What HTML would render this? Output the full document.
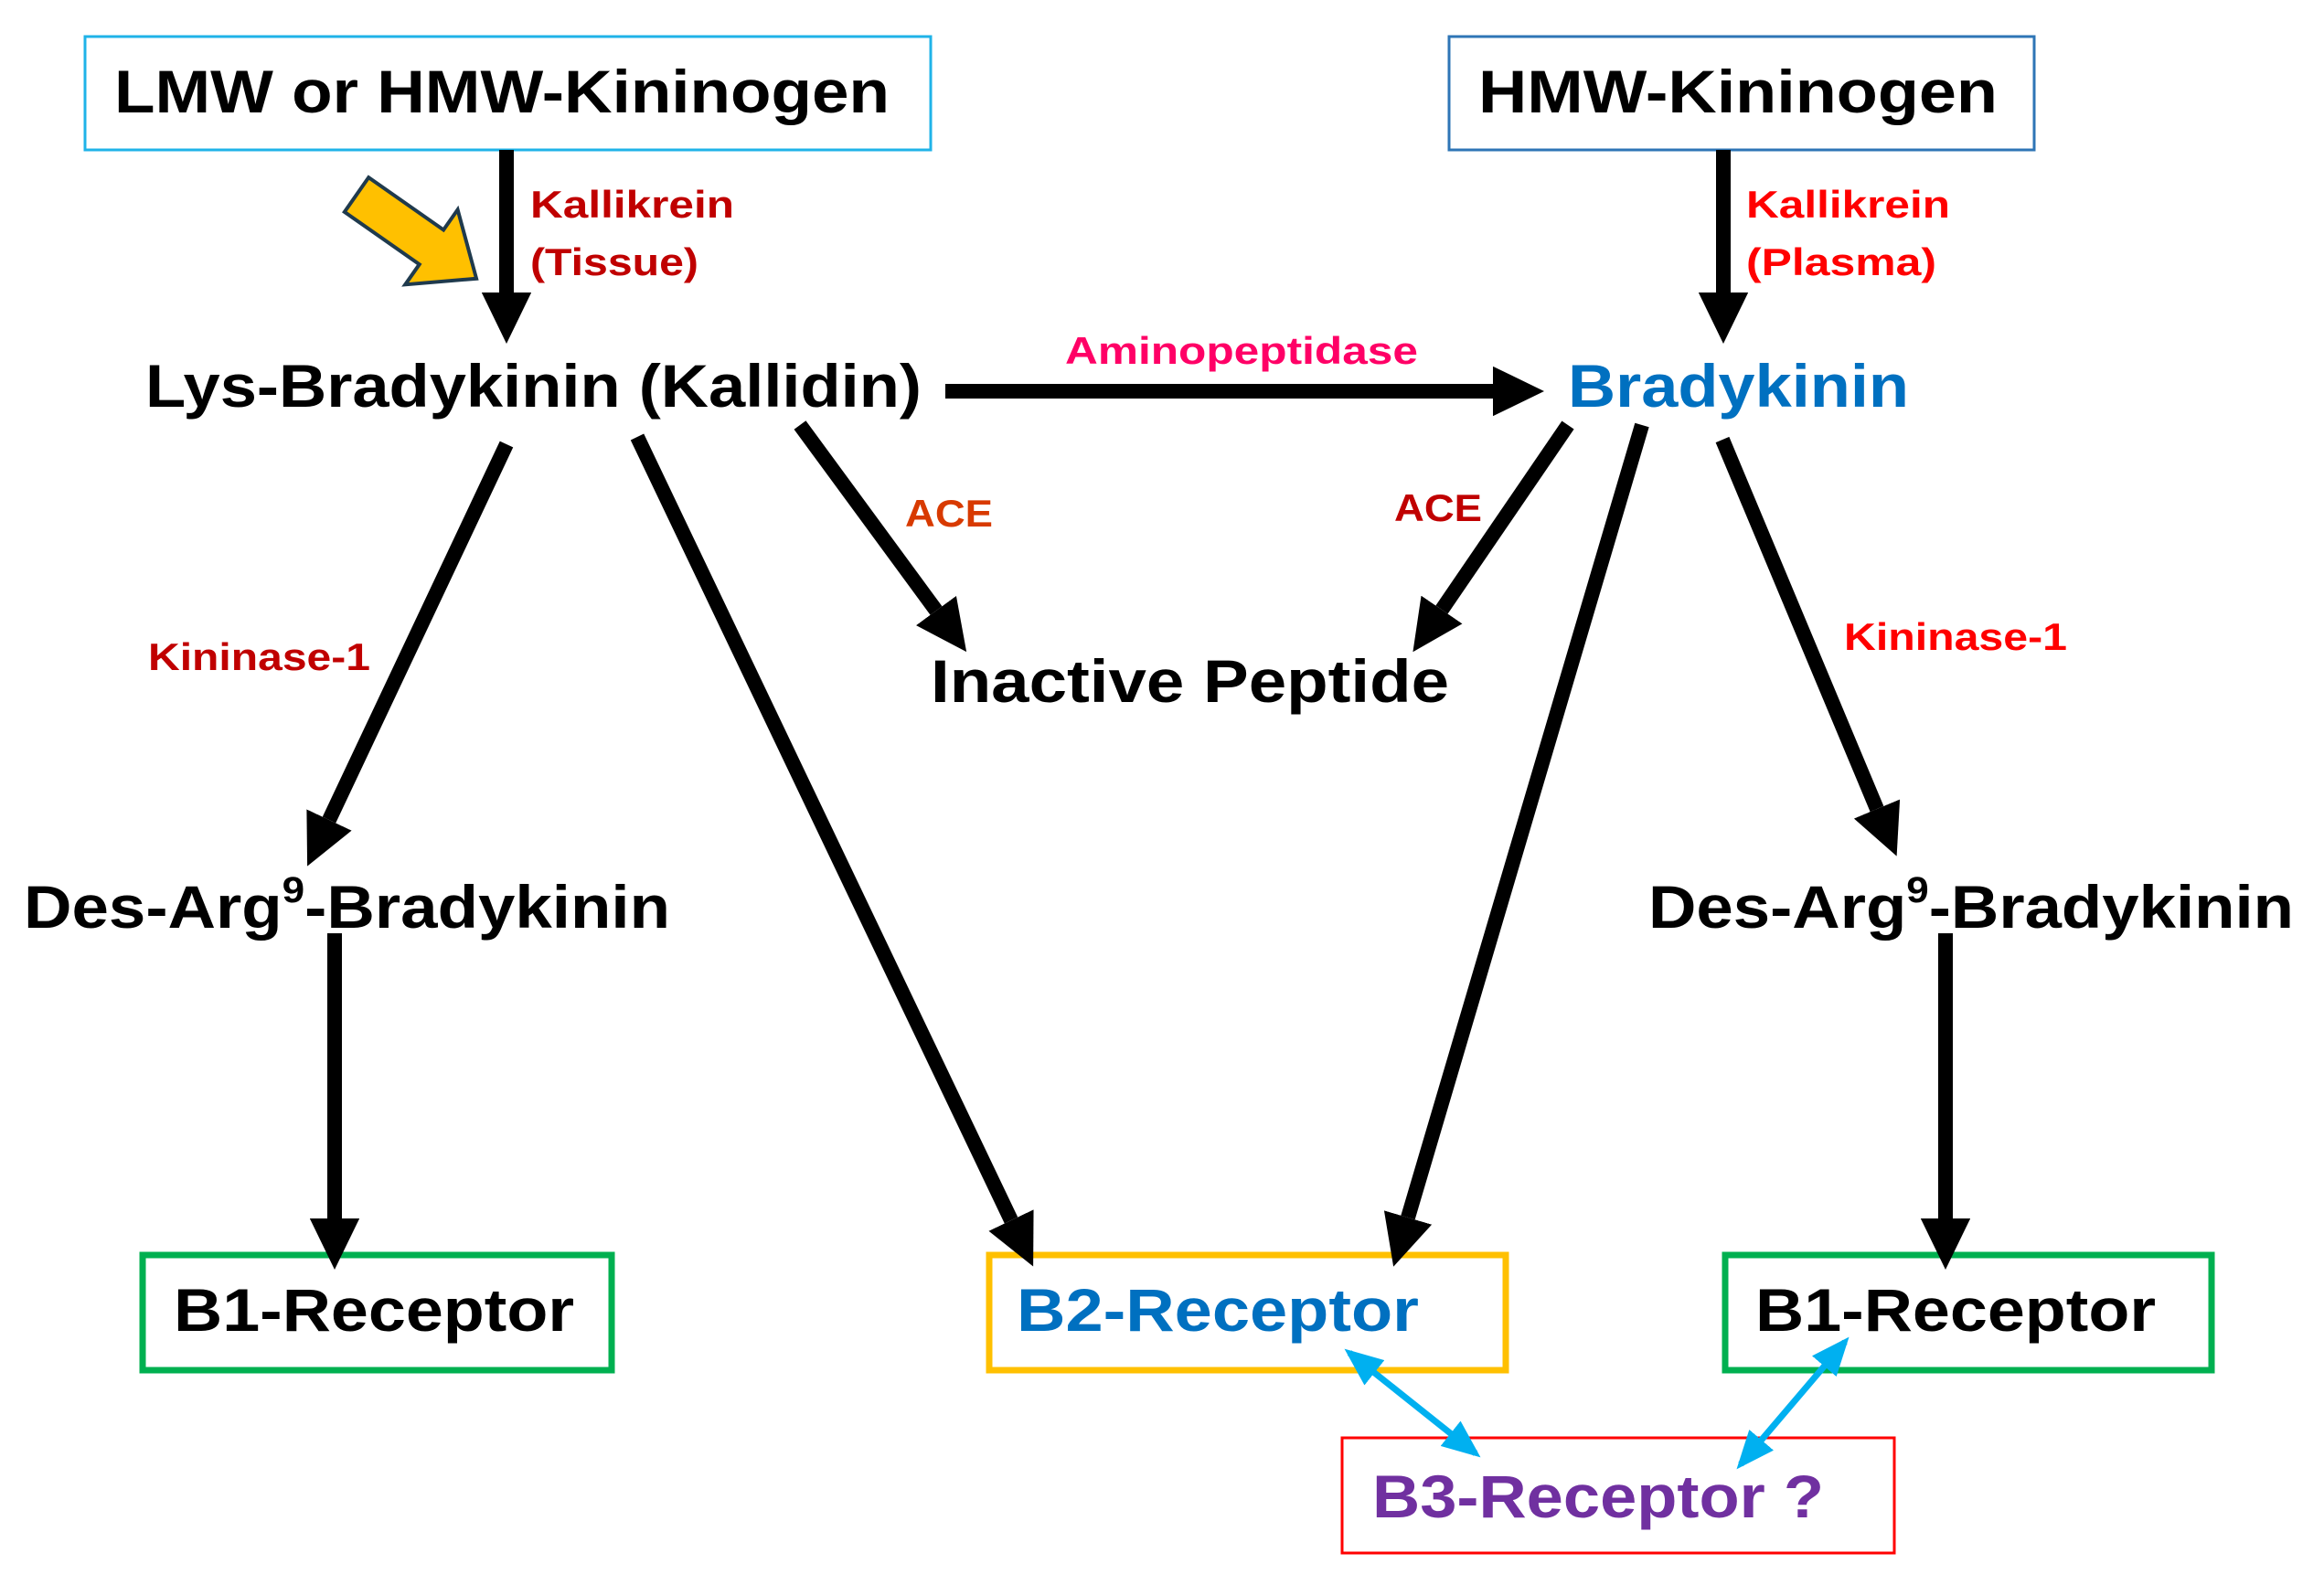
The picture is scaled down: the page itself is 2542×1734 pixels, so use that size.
<!DOCTYPE html>
<html><head><meta charset="utf-8"><style>
html,body{margin:0;padding:0;background:#fff;}
svg{display:block;}
text{font-family:"Liberation Sans",sans-serif;font-weight:bold;}
</style></head><body>
<svg width="2542" height="1734" viewBox="0 0 2542 1734" xmlns="http://www.w3.org/2000/svg">
<defs>
<marker id="ah" markerWidth="3.5" markerHeight="3.4" refX="0" refY="1.7" orient="auto" markerUnits="strokeWidth">
<path d="M0,0 L3.5,1.7 L0,3.4 z" fill="#000"/>
</marker>
<marker id="ch" markerWidth="6" markerHeight="5" refX="5" refY="2.5" orient="auto-start-reverse" markerUnits="strokeWidth">
<path d="M0,0 L6,2.5 L0,5 z" fill="#00b0f0"/>
</marker>
</defs>

<rect x="93" y="40" width="925" height="124" fill="none" stroke="#1fb3e8" stroke-width="3"/>
<rect x="1585" y="40" width="640" height="124" fill="none" stroke="#2e75b6" stroke-width="3"/>
<rect x="156" y="1373" width="513" height="126" fill="none" stroke="#00b050" stroke-width="7"/>
<rect x="1082" y="1373" width="565" height="126" fill="none" stroke="#ffc000" stroke-width="7"/>
<rect x="1887" y="1373" width="532" height="126" fill="none" stroke="#00b050" stroke-width="7"/>
<rect x="1468" y="1573" width="604" height="126" fill="none" stroke="#ff0000" stroke-width="3"/>

<g stroke="#000" stroke-width="16" marker-end="url(#ah)">
<line x1="554" y1="164" x2="554" y2="320"/>
<line x1="1885" y1="164" x2="1885" y2="320"/>
<line x1="1034" y1="428" x2="1633" y2="428"/>
<line x1="554" y1="486" x2="360" y2="897"/>
<line x1="697" y1="478" x2="1106" y2="1335"/>
<line x1="875" y1="465" x2="1024" y2="668"/>
<line x1="1715" y1="465" x2="1577" y2="667"/>
<line x1="1796" y1="465" x2="1540" y2="1332"/>
<line x1="1884" y1="481" x2="2053" y2="885"/>
<line x1="366" y1="1021" x2="366" y2="1333"/>
<line x1="2128" y1="1021" x2="2128" y2="1333"/>
</g>

<g stroke="#00b0f0" stroke-width="7" marker-start="url(#ch)" marker-end="url(#ch)">
<line x1="1476" y1="1480" x2="1614" y2="1590"/>
<line x1="2018" y1="1468" x2="1904" y2="1602"/>
</g>

<polygon transform="translate(390,213) rotate(35)" points="0,-23 100,-23 100,-50 160,0 100,50 100,23 0,23" fill="#ffc000" stroke="#1f3a4d" stroke-width="4" stroke-linejoin="miter"/>

<text x="125" y="123" font-size="66" fill="#000" textLength="848" lengthAdjust="spacingAndGlyphs">LMW or HMW-Kininogen</text>
<text x="1617" y="123" font-size="66" fill="#000" textLength="568" lengthAdjust="spacingAndGlyphs">HMW-Kininogen</text>
<text x="159" y="445" font-size="66" fill="#000" textLength="849" lengthAdjust="spacingAndGlyphs">Lys-Bradykinin (Kallidin)</text>
<text x="1715" y="445" font-size="66" fill="#0070c0" textLength="373" lengthAdjust="spacingAndGlyphs">Bradykinin</text>
<text x="1018" y="768" font-size="66" fill="#000" textLength="567" lengthAdjust="spacingAndGlyphs">Inactive Peptide</text>
<text x="26" y="1015" font-size="66" fill="#000" textLength="707" lengthAdjust="spacingAndGlyphs">Des-Arg<tspan font-size="40" dy="-28">9</tspan><tspan dy="28">-Bradykinin</tspan></text>
<text x="1803" y="1015" font-size="66" fill="#000" textLength="706" lengthAdjust="spacingAndGlyphs">Des-Arg<tspan font-size="40" dy="-28">9</tspan><tspan dy="28">-Bradykinin</tspan></text>
<text x="190" y="1456" font-size="66" fill="#000" textLength="438" lengthAdjust="spacingAndGlyphs">B1-Receptor</text>
<text x="1112" y="1456" font-size="66" fill="#0070c0" textLength="440" lengthAdjust="spacingAndGlyphs">B2-Receptor</text>
<text x="1920" y="1456" font-size="66" fill="#000" textLength="438" lengthAdjust="spacingAndGlyphs">B1-Receptor</text>
<text x="1501" y="1660" font-size="66" fill="#7030a0" textLength="494" lengthAdjust="spacingAndGlyphs">B3-Receptor ?</text>

<text x="580" y="238" font-size="42" fill="#c00000" textLength="223" lengthAdjust="spacingAndGlyphs">Kallikrein</text>
<text x="580" y="301" font-size="42" fill="#c00000" textLength="184" lengthAdjust="spacingAndGlyphs">(Tissue)</text>
<text x="1910" y="238" font-size="42" fill="#ff0000" textLength="223" lengthAdjust="spacingAndGlyphs">Kallikrein</text>
<text x="1910" y="301" font-size="42" fill="#ff0000" textLength="208" lengthAdjust="spacingAndGlyphs">(Plasma)</text>
<text x="1165" y="398" font-size="42" fill="#ff0066" textLength="386" lengthAdjust="spacingAndGlyphs">Aminopeptidase</text>
<text x="990" y="576" font-size="42" fill="#d83a00" textLength="96" lengthAdjust="spacingAndGlyphs">ACE</text>
<text x="1525" y="570" font-size="42" fill="#c00000" textLength="96" lengthAdjust="spacingAndGlyphs">ACE</text>
<text x="162" y="733" font-size="42" fill="#c00000" textLength="243" lengthAdjust="spacingAndGlyphs">Kininase-1</text>
<text x="2017" y="711" font-size="42" fill="#ff0000" textLength="244" lengthAdjust="spacingAndGlyphs">Kininase-1</text>
</svg>
</body></html>
